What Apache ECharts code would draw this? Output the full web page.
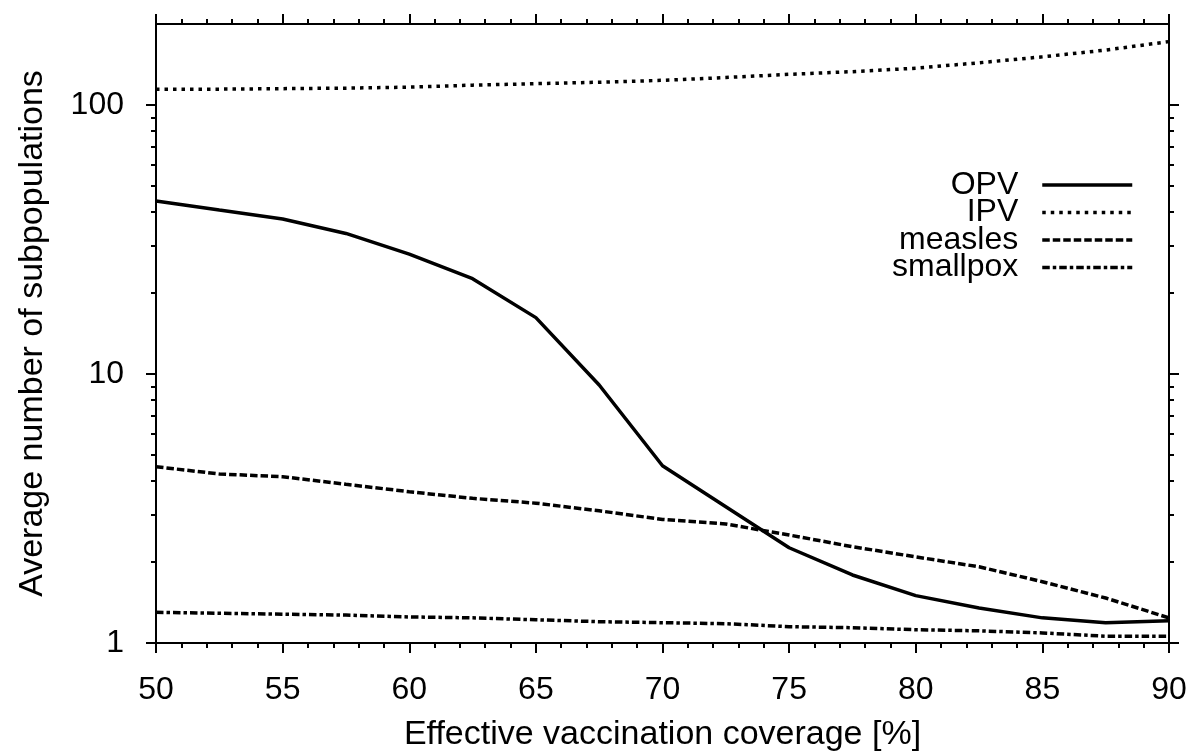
<!DOCTYPE html>
<html>
<head>
<meta charset="utf-8">
<script src="https://cdn.jsdelivr.net/npm/echarts@6/dist/echarts.min.js"></script>
<style>
  html, body { margin: 0; padding: 0; background: #fff; }
  #chart { width: 1191px; height: 754px; }
</style>
</head>
<body>
<div id="chart"></div>
<script>
// coverage values on the x axis
var coverage = [50, 52.5, 55, 57.5, 60, 62.5, 65, 67.5, 70, 72.5, 75, 77.5, 80, 82.5, 85, 87.5, 90];

// average number of subpopulations
var opv = [44.0, 40.7, 37.7, 33.3, 27.9, 22.6, 16.2, 9.1, 4.56, 3.21, 2.26, 1.79, 1.50, 1.35, 1.24, 1.19, 1.21];
var ipv = [114.5, 114.5, 115, 115.5, 116.5, 118.5, 120, 121.5, 123.5, 126.5, 130, 133, 137, 143.5, 151, 160, 172];
var measles = [4.52, 4.25, 4.15, 3.89, 3.65, 3.45, 3.31, 3.10, 2.88, 2.77, 2.52, 2.28, 2.09, 1.92, 1.69, 1.47, 1.24];
var smallpox = [1.30, 1.29, 1.28, 1.27, 1.25, 1.24, 1.22, 1.20, 1.19, 1.18, 1.15, 1.14, 1.12, 1.11, 1.09, 1.06, 1.06];

var names = ['OPV', 'IPV', 'measles', 'smallpox'];
var yMajor = [1, 10, 100];
var yMinor = [2, 3, 4, 5, 6, 7, 8, 9, 20, 30, 40, 50, 60, 70, 80, 90];

var FONT = '"Liberation Sans", Arial, sans-serif';
var dashes = ['solid', [3.5, 5], [7.5, 3], [7.5, 3, 3.5, 3]];
var widths = [3.5, 3.5, 3.5, 3.5];
var legendTops = [169, 196.5, 224, 251.5];

function pairs(ys) {
  return coverage.map(function (x, i) { return [x, ys[i]]; });
}

function xAxisCfg(pos, labels) {
  return {
    type: 'value', position: pos, min: 50, max: 90, interval: 5,
    axisLine: { show: true, onZero: false, lineStyle: { color: '#000', width: 2 } },
    axisTick: { show: true, length: 10, lineStyle: { color: '#000', width: 2 } },
    minorTick: { show: true, splitNumber: 5, length: 5, lineStyle: { color: '#000', width: 2 } },
    axisLabel: { show: labels, fontSize: 32, fontFamily: FONT, color: '#000', margin: 31 },
    splitLine: { show: false },
    name: labels ? 'Effective vaccination coverage [%]' : '',
    nameLocation: 'middle', nameGap: 75,
    nameTextStyle: { fontSize: 34, fontFamily: FONT, color: '#000' }
  };
}

function yAxisCfg(pos, major, labels) {
  return {
    type: 'log', logBase: 10, position: pos, min: 1, max: 200, offset: 0,
    axisLine: { show: major, onZero: false, lineStyle: { color: '#000', width: 2 } },
    axisTick: { show: true, length: major ? 10 : 5, customValues: major ? yMajor : yMinor,
      lineStyle: { color: '#000', width: 2 } },
    axisLabel: { show: labels, customValues: yMajor, fontSize: 32, fontFamily: FONT, color: '#000', margin: 32 },
    splitLine: { show: false },
    name: labels ? 'Average number of subpopulations' : '',
    nameLocation: 'middle', nameGap: 106,
    nameTextStyle: { fontSize: 34, fontFamily: FONT, color: '#000' }
  };
}

var series = [opv, ipv, measles, smallpox].map(function (ys, i) {
  return {
    name: names[i], type: 'line', data: pairs(ys),
    xAxisIndex: 0, yAxisIndex: 0,
    symbol: 'none', showSymbol: false,
    lineStyle: { color: '#000', width: widths[i], type: dashes[i] },
    itemStyle: { color: '#000' }
  };
});

var legends = names.map(function (n, i) {
  return {
    data: [n], orient: 'vertical', right: 57, top: legendTops[i], align: 'right',
    itemWidth: 90, itemHeight: 10, padding: 0, selectedMode: false,
    textStyle: { fontSize: 32, lineHeight: 32, fontFamily: FONT, color: '#000', padding: [0, 19, 0, 0] },
    itemStyle: { color: 'rgba(0,0,0,0)', borderWidth: 0, opacity: 0 },
    lineStyle: { width: widths[i], type: dashes[i], color: '#000' }
  };
});

var myChart = echarts.init(document.getElementById('chart'));
myChart.setOption({
  animation: false,
  backgroundColor: '#fff',
  grid: { left: 156, right: 22, top: 24, bottom: 111, outerBoundsMode: 'none' },
  legend: legends,
  xAxis: [xAxisCfg('bottom', true), xAxisCfg('top', false)],
  yAxis: [
    yAxisCfg('left', true, true),
    yAxisCfg('left', false, false),
    yAxisCfg('right', true, false),
    yAxisCfg('right', false, false)
  ],
  series: series
});
</script>
</body>
</html>
